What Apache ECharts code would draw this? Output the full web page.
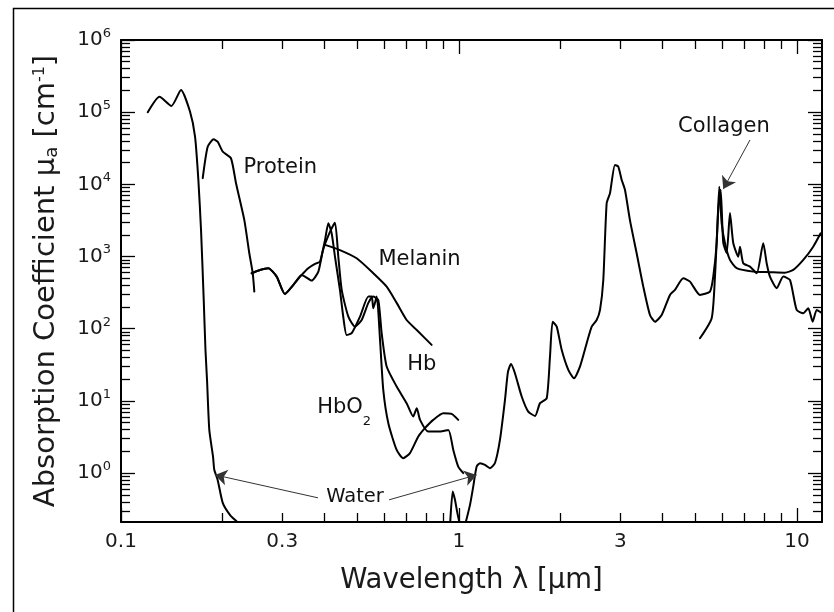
<!DOCTYPE html>
<html>
<head>
<meta charset="utf-8">
<script src="https://cdn.jsdelivr.net/npm/echarts@6/dist/echarts.min.js"></script>
<style>
  html, body { margin: 0; padding: 0; background: #fff; }
  #main { width: 834px; height: 612px; }
</style>
</head>
<body>
<div id="main"></div>
<script>
// absorption spectra, [wavelength um, mu_a cm^-1]
var waterUV = [[0.120,1.0e5],[0.130,1.64e5],[0.141,1.22e5],[0.1505,2.03e5],[0.160,1.02e5],[0.1656,4.6e4],
  [0.1694,1.15e4],[0.1725,2330],[0.1757,251],[0.1778,50.8],[0.1797,19.5],[0.1825,3.96],[0.1872,1.69],
  [0.1888,1.11],[0.1932,0.805],[0.200,0.386],[0.210,0.264],[0.220,0.213],[0.225,0.19]];
var waterBump = [[0.941,0.19],[0.958,0.555],[0.973,0.426],[0.989,0.281],[1.007,0.19]];
var waterIR = [[1.042,0.19],[1.078,0.363],[1.102,0.65],[1.128,1.23],[1.154,1.37],[1.194,1.30],[1.235,1.17],
  [1.278,1.38],[1.322,2.88],[1.368,10.3],[1.396,25.2],[1.425,32.5],[1.464,24.2],[1.533,11.5],[1.603,7.1],
  [1.679,6.2],[1.737,9.3],[1.818,10.9],[1.859,41],[1.893,125],[1.946,107],[2.013,51],[2.106,26.9],
  [2.189,20.6],[2.280,29.9],[2.387,63],[2.470,107],[2.555,132],[2.614,182],[2.673,474],[2.735,5470],
  [2.797,7500],[2.894,18600],[2.960,17600],[3.030,11500],[3.098,8400],[3.205,3200],[3.355,1110],
  [3.510,383],[3.673,155],[3.802,125],[3.979,155],[4.210,294],[4.355,345],[4.609,500],[4.825,449],
  [5.164,294],[5.528,327],[5.654,527],[5.786,1530],[5.890,9300],[5.987,2890],[6.124,1530],[6.336,897],
  [6.632,689],[7.425,618],[8.320,607],[9.215,598],[9.75,652],[10.44,897],[11.17,1370],[11.75,2100]];
var collagen = [[5.164,73.8],[5.593,140],[5.720,527],[5.850,4400],[5.946,8400],[6.053,1540],[6.194,1120],
  [6.336,4000],[6.479,1540],[6.704,997],[6.783,1370],[6.935,807],[7.261,725],[7.600,587],[7.948,1530],
  [8.135,807],[8.320,527],[8.710,364],[9.11,527],[9.535,474],[9.98,182],[10.44,164],[10.80,192],
  [11.13,125],[11.44,182],[11.83,166]];
var protein = [[0.1745,12200],[0.1805,33300],[0.188,42000],[0.1932,39000],[0.200,28400],[0.2115,23000],
  [0.219,10300],[0.2317,3200],[0.2397,1110],[0.2453,587],[0.248,327]];
var hbo2 = [[0.2436,587],[0.2577,652],[0.2728,689],[0.2888,527],[0.3055,303],[0.3236,405],[0.3424,556],
  [0.3581,689],[0.375,790],[0.388,849],[0.4015,1700],[0.4106,2890],[0.420,2100],[0.4296,997],[0.4444,345],
  [0.4545,147],[0.4652,82],[0.4815,86.7],[0.5095,147],[0.5393,279],[0.5518,279],[0.5578,192],[0.5710,279],
  [0.584,70],[0.597,14.2],[0.618,4.91],[0.654,2.09],[0.684,1.61],[0.716,1.89],[0.758,3.21],[0.793,4.19],
  [0.839,5.46],[0.899,6.76],[0.951,6.61],[0.995,5.46]];
var hb = [[0.2436,587],[0.2577,652],[0.2728,689],[0.2888,527],[0.3055,303],[0.3236,405],[0.3424,556],
  [0.3503,527],[0.3667,464],[0.3836,618],[0.396,1230],[0.4152,2190],[0.4296,2950],[0.4395,997],[0.4498,345],
  [0.4706,147],[0.4925,107],[0.5153,132],[0.5393,228],[0.5568,279],[0.577,251],[0.5905,86.7],[0.611,29.9],
  [0.654,15.8],[0.700,9.29],[0.732,6.07],[0.750,7.93],[0.767,5.46],[0.811,3.76],[0.879,3.76],[0.930,3.96],
  [0.962,2.09],[0.995,1.23],[1.030,1.0]];
var melanin = [[0.4015,1450],[0.4444,1230],[0.498,946],[0.5578,587],[0.611,383],[0.654,228],[0.700,132],
  [0.750,96],[0.830,59.7]];

// tick values
var xLabels = [0.1, 0.3, 1, 3, 10];
var xMajor = [0.1, 1, 10];
var yMajor = [1, 10, 100, 1e3, 1e4, 1e5, 1e6];
var mantissa = [2, 3, 4, 5, 6, 7, 8, 9];
var xMinor = [], yMinor = [];
[0.1, 1].forEach(function (d) { mantissa.forEach(function (m) { xMinor.push(+(m * d).toPrecision(3)); }); });
[0.1, 1, 10, 100, 1e3, 1e4, 1e5].forEach(function (d) { mantissa.forEach(function (m) { yMinor.push(+(m * d).toPrecision(3)); }); });

// text labels and arrows
var labelNames = ['Protein', 'Melanin', 'Hb', '{b|HbO}{s|2}', 'Water', 'Collagen'];
var labelAt = [[0.2296, 16900], [0.5758, 897], [0.700, 31.6], [0.3793, 8.0], [0.4925, 0.468], [6.08, 62400]];
var arrows = [
  [[0.3827, 0.454], [0.1897, 0.944]],
  [[0.621, 0.426], [1.128, 0.944]],
  [[7.261, 41200], [6.053, 8600]]
];

var FONT = 'DejaVu Sans';
var chart = echarts.init(document.getElementById('main'));

function logAxis(pos, min, max, extra) {
  var a = {
    type: 'log', logBase: 10, gridIndex: 0, position: pos, min: min, max: max,
    splitLine: { show: false },
    axisLine: { show: false, onZero: false },
    axisTick: { show: false },
    axisLabel: { show: false }
  };
  return Object.assign(a, extra);
}
var black = { color: '#000', width: 2 };
function ticks(vals, len) {
  return { show: true, inside: true, length: len, customValues: vals, lineStyle: { color: '#000', width: 1.3 } };
}
var XMIN = 0.1, XMAX = 11.86, YMIN = 0.21, YMAX = 1e6;

function curve(name, data) {
  return {
    name: name, type: 'line', data: data, showSymbol: false, symbol: 'none',
    smooth: 0.2,
    lineStyle: { color: '#000', width: 2, join: 'round', cap: 'round' }, silent: true, z: 3
  };
}

var option = {
  backgroundColor: '#fff',
  animation: false,
  grid: { left: 121, right: 12, top: 40, bottom: 90 },
  graphic: [{
    type: 'rect', left: 11, top: 6, shape: { width: 900, height: 700 },
    style: { fill: 'none', stroke: '#000', lineWidth: 1.5 }, silent: true
  }],
  xAxis: [
    logAxis('bottom', XMIN, XMAX, {
      axisLine: { show: true, onZero: false, lineStyle: black },
      axisTick: ticks(xMajor, 14),
      axisLabel: {
        show: true, customValues: xLabels, margin: 10, fontSize: 20, color: '#1a1a1a', fontFamily: FONT,
        formatter: function (v) { return String(v); }
      },
      name: 'Wavelength λ [μm]', nameLocation: 'middle', nameGap: 45,
      nameTextStyle: { fontSize: 27.5, color: '#1a1a1a', fontFamily: FONT }
    }),
    logAxis('bottom', XMIN, XMAX, { axisTick: ticks(xMinor, 9) }),
    logAxis('top', XMIN, XMAX, { axisLine: { show: true, onZero: false, lineStyle: black }, axisTick: ticks(xMajor, 14) }),
    logAxis('top', XMIN, XMAX, { axisTick: ticks(xMinor, 9) })
  ],
  yAxis: [
    logAxis('left', YMIN, YMAX, {
      axisLine: { show: true, onZero: false, lineStyle: black },
      axisTick: ticks(yMajor, 14),
      axisLabel: {
        show: true, customValues: yMajor, margin: 10, color: '#1a1a1a', fontFamily: FONT,
        formatter: function (v) { return '{b|10}{s|' + Math.round(Math.log10(v)) + '}'; },
        rich: {
          b: { fontSize: 20, lineHeight: 26, fontFamily: FONT, color: '#1a1a1a' },
          s: { fontSize: 13, lineHeight: 14, verticalAlign: 'top', fontFamily: FONT, color: '#1a1a1a' }
        }
      },
      name: 'Absorption Coefficient μ{sub|a} [cm{sup|-1}]', nameLocation: 'middle', nameGap: 60, nameRotate: 90,
      nameTextStyle: {
        fontSize: 29, color: '#1a1a1a', fontFamily: FONT,
        rich: {
          sub: { fontSize: 18, lineHeight: 18, verticalAlign: 'bottom', fontFamily: FONT, color: '#1a1a1a' },
          sup: { fontSize: 16, lineHeight: 22, verticalAlign: 'top', fontFamily: FONT, color: '#1a1a1a' }
        }
      }
    }),
    logAxis('left', YMIN, YMAX, { axisTick: ticks(yMinor, 9) }),
    logAxis('right', YMIN, YMAX, { axisLine: { show: true, onZero: false, lineStyle: black }, axisTick: ticks(yMajor, 14) }),
    logAxis('right', YMIN, YMAX, { axisTick: ticks(yMinor, 9) })
  ],
  series: [
    curve('Water', waterUV),
    curve('Water', waterBump),
    curve('Water', waterIR),
    curve('Collagen', collagen),
    curve('Protein', protein),
    curve('HbO2', hbo2),
    curve('Hb', hb),
    curve('Melanin', melanin),
    {
      type: 'lines', coordinateSystem: 'cartesian2d', silent: true, z: 4,
      symbol: ['none', 'arrow'], symbolSize: 12,
      lineStyle: { color: '#333', width: 1, opacity: 1 },
      data: arrows.map(function (c) { return { coords: c }; })
    },
    {
      type: 'scatter', symbolSize: 1, silent: true, z: 5,
      itemStyle: { color: 'transparent', opacity: 1 },
      data: labelNames.map(function (n, i) {
        var centered = (n === 'Water' || n === 'Collagen');
        return {
          value: labelAt[i],
          label: {
            show: true, formatter: n, position: centered ? 'inside' : 'right', distance: 0,
            fontSize: n === 'Water' ? 19.5 : 21, color: '#111', opacity: 1, fontFamily: FONT,
            backgroundColor: n === 'Water' ? '#fff' : 'transparent',
            rich: {
              b: { fontSize: 21, lineHeight: 40, fontFamily: FONT, color: '#111' },
              s: { fontSize: 13, lineHeight: 14, verticalAlign: 'bottom', fontFamily: FONT, color: '#111' }
            }
          }
        };
      })
    }
  ]
};
chart.setOption(option);
</script>
</body>
</html>
